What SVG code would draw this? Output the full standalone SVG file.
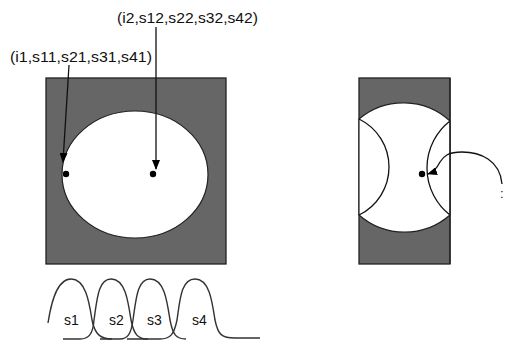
<svg xmlns="http://www.w3.org/2000/svg" width="506" height="345" viewBox="0 0 506 345">
<style>
text{font-family:"Liberation Sans",Arial,sans-serif;fill:#111}
.lbl{font-size:15px}
.s{font-size:14px}
.box{fill:#666;stroke:#222;stroke-width:1.3}
.ln{fill:none;stroke:#111;stroke-width:1.3}
.curve{fill:none;stroke:#333;stroke-width:1.4}
.dot{fill:#000}
</style>
<defs>
<marker id="ah" markerWidth="10" markerHeight="8" refX="9" refY="4" orient="auto" markerUnits="userSpaceOnUse">
<path d="M0,0 L10,4 L0,8 Z" fill="#000"/>
</marker>
</defs>
<g id="labels">
<text class="lbl" x="10" y="62" textLength="142" lengthAdjust="spacingAndGlyphs">(i1,s11,s21,s31,s41)</text>
<text class="lbl" x="117" y="23" textLength="141" lengthAdjust="spacingAndGlyphs">(i2,s12,s22,s32,s42)</text>
</g>
<g id="leftBox">
<rect class="box" x="46" y="78" width="180" height="186"/>
<ellipse cx="135" cy="174.5" rx="73" ry="63.5" fill="#fff" stroke="#222" stroke-width="1.2"/>
<circle class="dot" cx="66" cy="174" r="3.2"/>
<circle class="dot" cx="153" cy="174" r="3.2"/>
</g>
<g id="rightBox">
<rect class="box" x="359" y="78" width="91" height="186"/>
<path d="M359,119 A69,69 0 0 1 450,121 L450,215 A69,69 0 0 1 359,215 Z" fill="#fff" stroke="#222" stroke-width="1.2"/>
<path class="ln" d="M359,119 A53.4,53.4 0 0 1 359,215"/>
<path class="ln" d="M450,121 A59.5,59.5 0 0 0 450,215"/>
<line x1="450" y1="78" x2="450" y2="264" stroke="#222" stroke-width="1.3"/>
<circle class="dot" cx="422" cy="174" r="3.2"/>
</g>
<g id="connectors">
<line class="ln" x1="69" y1="65" x2="63" y2="162" marker-end="url(#ah)"/>
<line class="ln" x1="156" y1="27" x2="156" y2="169" marker-end="url(#ah)"/>
<path class="ln" d="M502,184 C500,160 480,152 462,152 C448,152 444,156 440,162 C437,168 434,172 428,174" marker-end="url(#ah)"/>
</g>
<text x="500" y="198" style="font-size:13px">:</text>
<g id="gaussians">
<path class="curve" d="M48,323 C50,310 55,279 71,279 C85,279 89,300 92,320 C95,335 101,339 112,339"/>
<path class="curve" d="M63,339 L80,339 C88,339 93,335 94,320 C97,300 98,279 111,279 C125,279 128,300 131,320 C134,335 138,339 148,339 L127,339"/>
<path class="curve" d="M100,339 L120,339 C127,339 131,335 133,320 C136,300 137,279 150,279 C164,279 167,300 170,320 C173,335 176,339 186,339"/>
<path class="curve" d="M143,339 L160,339 C170,339 174,335 177,320 C180,300 181,279 195,279 C209,279 212,300 215,320 C218,335 222,338 235,338 L260,338"/>
<text class="s" x="64" y="325">s1</text>
<text class="s" x="109" y="325">s2</text>
<text class="s" x="147" y="325">s3</text>
<text class="s" x="192" y="325">s4</text>
</g>
</svg>
